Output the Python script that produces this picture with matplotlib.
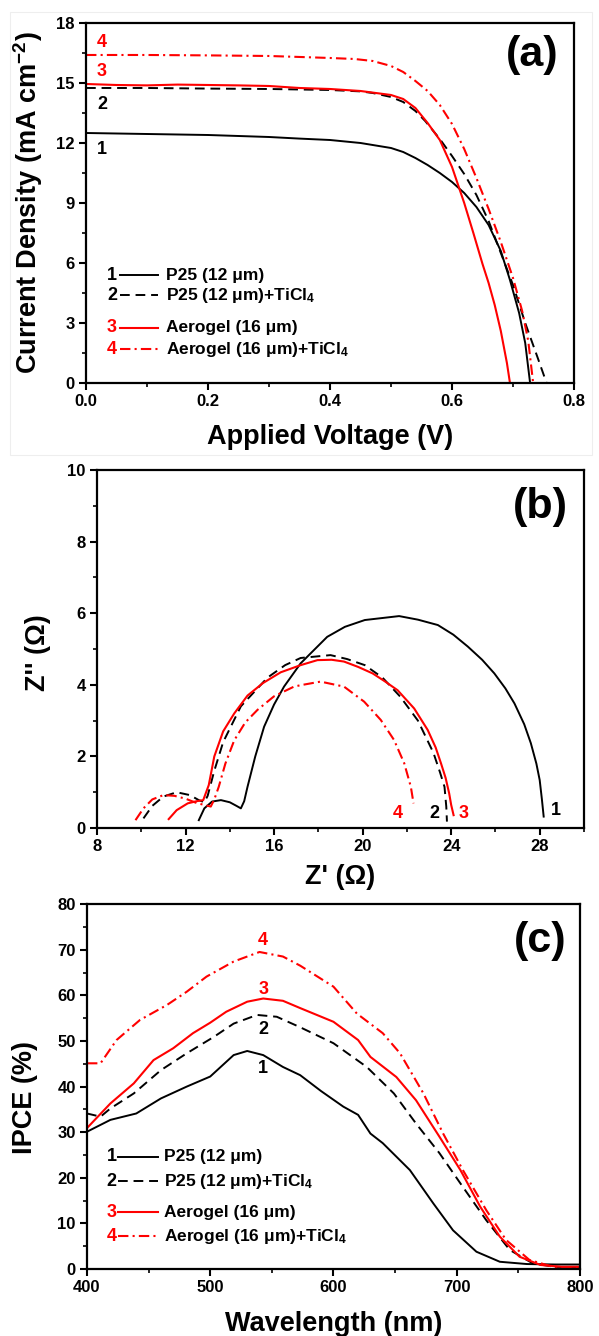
import matplotlib
matplotlib.use("Agg")
import matplotlib.pyplot as plt
from matplotlib.ticker import MultipleLocator
from matplotlib.patches import Rectangle

plt.rcParams["font.family"] = ["Liberation Sans", "DejaVu Sans"]
plt.rcParams["font.weight"] = "bold"
plt.rcParams["mathtext.fontset"] = "custom"
plt.rcParams["mathtext.rm"] = "Liberation Sans:bold"
plt.rcParams["mathtext.it"] = "Liberation Sans:bold"
plt.rcParams["mathtext.bf"] = "Liberation Sans:bold"
plt.rcParams["mathtext.default"] = "rm"

RED = "#ff0000"

# ---------------- (a) J-V curves ----------------
jv_v1 = [0, 0.1, 0.2, 0.3, 0.35, 0.4, 0.45, 0.5, 0.52, 0.54, 0.56, 0.58, 0.6, 0.62, 0.64,
         0.66, 0.68, 0.695, 0.71, 0.72, 0.728]
jv_j1 = [12.5, 12.45, 12.4, 12.3, 12.22, 12.15, 12.0, 11.75, 11.55, 11.25, 10.9, 10.5, 10.05, 9.5, 8.8,
         7.9, 6.6, 5.15, 3.5, 2.0, 0]

jv_v2 = [0, 0.1, 0.2, 0.3, 0.4, 0.45, 0.47, 0.5, 0.52, 0.54, 0.556, 0.58, 0.6, 0.62, 0.64,
         0.66, 0.68, 0.70, 0.72, 0.74, 0.755]
jv_j2 = [14.75, 14.75, 14.72, 14.7, 14.65, 14.58, 14.5, 14.3, 14.05, 13.6, 13.1, 12.2, 11.35, 10.45, 9.4,
         8.1, 6.5, 4.9, 3.0, 1.3, 0]

jv_v3 = [0, 0.05, 0.1, 0.15, 0.2, 0.25, 0.3, 0.35, 0.4, 0.45, 0.5, 0.52, 0.54, 0.56, 0.58,
         0.6, 0.62, 0.635, 0.65, 0.66, 0.67, 0.68, 0.69, 0.695]
jv_j3 = [14.95, 14.9, 14.88, 14.92, 14.9, 14.88, 14.85, 14.75, 14.7, 14.6, 14.4, 14.2, 13.75, 13.0, 12.15,
         10.8, 9.0, 7.5, 5.95, 5.0, 3.9, 2.6, 1.0, 0]

jv_v4 = [0, 0.1, 0.2, 0.3, 0.351, 0.4, 0.44, 0.47, 0.5, 0.52, 0.54, 0.56, 0.58, 0.6, 0.62,
         0.64, 0.66, 0.68, 0.7, 0.715, 0.725, 0.733]
jv_j4 = [16.4, 16.4, 16.38, 16.35, 16.3, 16.25, 16.2, 16.1, 15.85, 15.55, 15.1, 14.6, 13.9, 12.95, 11.7,
         10.25, 8.7, 7.05, 5.25, 3.6, 2.1, 0]

# ---------------- (b) Nyquist plots ----------------
eis_re1 = [12.6, 12.85, 13.2, 13.6, 14.0, 14.3, 14.5, 14.65, 14.8, 15.15, 15.55, 16.0, 16.45, 17.2, 18.4, 19.2,
           20.1, 21.65, 22.5, 23.4, 24.1, 24.75, 25.4, 25.95, 26.45, 26.86, 27.3, 27.6, 27.85, 28.0, 28.1, 28.18]
eis_im1 = [0.22, 0.55, 0.74, 0.78, 0.72, 0.62, 0.55, 0.75, 1.15, 2.0, 2.83, 3.45, 3.95, 4.6, 5.34, 5.62,
           5.81, 5.92, 5.82, 5.67, 5.40, 5.07, 4.7, 4.32, 3.9, 3.48, 2.9, 2.37, 1.8, 1.34, 0.8, 0.32]

eis_re2 = [10.1, 10.5, 11.0, 11.6, 12.2, 12.6, 12.85, 13.0, 13.3, 13.7, 14.5, 15.7, 16.5, 17.2, 18.55, 19.3,
           20.1, 20.9, 21.7, 22.5, 23.2, 23.5, 23.7, 23.78, 23.81]
eis_im2 = [0.27, 0.62, 0.88, 1.0, 0.92, 0.78, 0.72, 0.9, 1.6, 2.4, 3.4, 4.2, 4.55, 4.75, 4.83, 4.72,
           4.55, 4.2, 3.67, 3.0, 2.1, 1.55, 1.15, 0.6, 0.18]

eis_re3 = [11.24, 11.6, 12.1, 12.5, 12.8, 13.05, 13.3, 13.7, 14.2, 14.8, 15.5, 16.3, 17.2, 17.96, 18.6, 19.16,
           19.8, 20.45, 21.0, 21.58, 22.33, 22.94, 23.3, 23.54, 23.75, 23.91, 24.0, 24.11]
eis_im3 = [0.25, 0.5, 0.69, 0.75, 0.78, 1.2, 2.0, 2.7, 3.2, 3.7, 4.05, 4.35, 4.55, 4.69, 4.7, 4.65,
           4.5, 4.32, 4.1, 3.85, 3.34, 2.74, 2.25, 1.81, 1.4, 0.97, 0.65, 0.36]

eis_re4 = [9.74, 10.1, 10.5, 11.0, 11.5, 12.0, 12.5, 13.14, 13.3, 13.5, 13.8, 14.2, 14.7, 15.25, 16.0, 16.9,
           17.2, 18.1, 19.16, 20.07, 20.82, 21.42, 21.88, 22.18, 22.3]
eis_im4 = [0.22, 0.55, 0.8, 0.92, 0.9, 0.82, 0.7, 0.6, 0.8, 1.15, 1.8, 2.45, 2.95, 3.3, 3.68, 3.95,
           3.99, 4.09, 3.95, 3.53, 3.02, 2.46, 1.81, 1.15, 0.69]

# ---------------- (c) IPCE spectra ----------------
wl1 = [400, 419, 440, 460, 481, 500, 519, 530, 543, 559, 573, 590, 608, 620, 630, 640, 662, 681, 697, 716, 735, 757, 780, 800]
ipce1 = [30.1, 32.7, 34.1, 37.4, 40.0, 42.2, 46.9, 47.8, 46.9, 44.3, 42.5, 39.0, 35.6, 33.8, 29.7, 27.6, 21.7, 14.4, 8.5, 3.8, 1.6, 1.1, 1.0, 1.0]

wl2 = [400, 411, 419, 438, 460, 481, 503, 519, 538, 554, 573, 600, 627, 649, 667, 686, 705, 724, 743, 762, 780, 800]
ipce2 = [34.1, 33.4, 35.2, 38.5, 43.6, 47.3, 50.9, 53.8, 55.7, 55.3, 53.0, 49.5, 44.3, 38.5, 31.9, 25.4, 18.0, 10.7, 4.2, 1.2, 0.5, 0.3]

wl3 = [400, 419, 438, 454, 470, 486, 500, 513, 530, 543, 559, 573, 600, 620, 630, 651, 667, 686, 703, 719, 735, 751, 768, 785, 800]
ipce3 = [30.9, 36.3, 40.7, 45.8, 48.4, 51.7, 54.0, 56.4, 58.6, 59.3, 58.8, 57.2, 54.2, 50.2, 46.5, 42.1, 37.0, 29.0, 21.7, 13.7, 7.1, 2.7, 0.9, 0.5, 0.5]

wl4 = [400, 411, 424, 443, 465, 481, 497, 519, 540, 559, 573, 600, 619, 640, 654, 673, 689, 705, 724, 740, 759, 778, 800]
ipce4 = [45.1, 45.1, 50.2, 54.6, 57.9, 60.8, 64.1, 67.4, 69.5, 68.5, 66.5, 61.9, 56.0, 51.7, 47.3, 38.5, 29.7, 21.7, 12.9, 6.4, 2.0, 0.5, 0.3]

legend_labels = ["P25 (12 μm)", "P25 (12 μm)+TiCl$_4$", "Aerogel (16 μm)", "Aerogel (16 μm)+TiCl$_4$"]
curve_ids = ["1", "2", "3", "4"]

# line styles for samples 1-4
STYLES = [
    dict(color="black", lw=1.4, linestyle="-"),
    dict(color="black", lw=1.4, linestyle=(0, (5, 3))),
    dict(color=RED, lw=1.5, linestyle="-"),
    dict(color=RED, lw=1.5, linestyle=(0, (5, 2, 1, 2))),
]
NUM_COLORS = ["black", "black", RED, RED]


def style_axes(ax):
    for s in ax.spines.values():
        s.set_linewidth(1.6)
    ax.tick_params(which="major", direction="out", length=5, width=1.5,
                   labelsize=12, pad=3, top=False, right=False)
    ax.tick_params(which="minor", direction="out", length=3, width=1.2,
                   top=False, right=False)
    for lab in ax.get_xticklabels() + ax.get_yticklabels():
        lab.set_fontweight("bold")


def draw_key(ax, xnum, xl0, xl1, xtxt, rows):
    for i, y in enumerate(rows):
        ax.text(xnum, y, curve_ids[i], transform=ax.transAxes, color=NUM_COLORS[i],
                fontsize=13, fontweight="bold", ha="center", va="center")
        ax.plot([xl0, xl1], [y, y], transform=ax.transAxes, **STYLES[i])
        ax.text(xtxt, y, legend_labels[i], transform=ax.transAxes, color="black",
                fontsize=12.5, fontweight="bold", ha="left", va="center")


fig = plt.figure(figsize=(5.99, 13.36), dpi=100)
fig.patches.append(Rectangle((10 / 599, 1 - 455 / 1336), 582 / 599, 443 / 1336,
                             transform=fig.transFigure, fill=False,
                             edgecolor="#eeeeee", lw=0.8))

# ---- panel (a)
axa = fig.add_axes([0.1436, 0.7133, 0.8147, 0.2695])
for v, j, st in zip([jv_v1, jv_v2, jv_v3, jv_v4], [jv_j1, jv_j2, jv_j3, jv_j4], STYLES):
    axa.plot(v, j, **st)
axa.set_xlim(0, 0.8)
axa.set_ylim(0, 18)
axa.xaxis.set_major_locator(MultipleLocator(0.2))
axa.xaxis.set_minor_locator(MultipleLocator(0.1))
axa.yaxis.set_major_locator(MultipleLocator(3))
axa.yaxis.set_minor_locator(MultipleLocator(1.5))
axa.set_xticks([0, 0.2, 0.4, 0.6, 0.8], ["0.0", "0.2", "0.4", "0.6", "0.8"])
style_axes(axa)
axa.set_xlabel("Applied Voltage (V)", fontsize=19.5, fontweight="bold")
axa.set_ylabel("Current Density (mA cm$^{-2}$)", fontsize=19.5, fontweight="bold")
axa.xaxis.set_label_coords(0.5, -0.115)
axa.yaxis.set_label_coords(-0.085, 0.5)
for txt, x, y, c in [("4", 0.026, 17.0, RED), ("3", 0.026, 15.57, RED),
                     ("2", 0.026, 13.9, "black"), ("1", 0.026, 11.65, "black")]:
    axa.text(x, y, txt, color=c, fontsize=13, fontweight="bold", ha="center", va="center")
axa.text(0.914, 0.91, "(a)", transform=axa.transAxes, fontsize=31, fontweight="bold",
         ha="center", va="center")
draw_key(axa, 0.053, 0.070, 0.148, 0.164, [0.30, 0.244, 0.153, 0.094])

# ---- panel (b)
axb = fig.add_axes([0.1619, 0.3802, 0.8130, 0.2680])
for x, y, st in zip([eis_re1, eis_re2, eis_re3, eis_re4], [eis_im1, eis_im2, eis_im3, eis_im4], STYLES):
    axb.plot(x, y, **st)
axb.set_xlim(8, 30)
axb.set_ylim(0, 10)
axb.xaxis.set_major_locator(MultipleLocator(4))
axb.xaxis.set_minor_locator(MultipleLocator(2))
axb.yaxis.set_major_locator(MultipleLocator(2))
axb.yaxis.set_minor_locator(MultipleLocator(1))
axb.set_xticks([8, 12, 16, 20, 24, 28])
style_axes(axb)
axb.set_xlabel("Z' (Ω)", fontsize=19.5, fontweight="bold")
axb.set_ylabel("Z'' (Ω)", fontsize=19.5, fontweight="bold")
axb.xaxis.set_label_coords(0.5, -0.1)
axb.yaxis.set_label_coords(-0.095, 0.49)
for txt, x, y, c in [("4", 21.58, 0.4, RED), ("2", 23.22, 0.4, "black"),
                     ("3", 24.58, 0.4, RED), ("1", 28.74, 0.48, "black")]:
    axb.text(x, y, txt, color=c, fontsize=13, fontweight="bold", ha="center", va="center")
axb.text(0.91, 0.897, "(b)", transform=axb.transAxes, fontsize=31, fontweight="bold",
         ha="center", va="center")

# ---- panel (c)
axc = fig.add_axes([0.1452, 0.0501, 0.8230, 0.2732])
for x, y, st in zip([wl1, wl2, wl3, wl4], [ipce1, ipce2, ipce3, ipce4], STYLES):
    axc.plot(x, y, **st)
axc.set_xlim(400, 800)
axc.set_ylim(0, 80)
axc.xaxis.set_major_locator(MultipleLocator(100))
axc.xaxis.set_minor_locator(MultipleLocator(50))
axc.yaxis.set_major_locator(MultipleLocator(10))
axc.yaxis.set_minor_locator(MultipleLocator(5))
style_axes(axc)
axc.set_xlabel("Wavelength (nm)", fontsize=19.5, fontweight="bold")
axc.set_ylabel("IPCE (%)", fontsize=19.5, fontweight="bold")
axc.xaxis.set_label_coords(0.5, -0.115)
axc.yaxis.set_label_coords(-0.1, 0.47)
for txt, x, y, c in [("4", 543, 72.1, RED), ("3", 543, 61.2, RED),
                     ("2", 543, 52.4, "black"), ("1", 543, 44.0, "black")]:
    axc.text(x, y, txt, color=c, fontsize=13, fontweight="bold", ha="center", va="center")
axc.text(0.919, 0.90, "(c)", transform=axc.transAxes, fontsize=31, fontweight="bold",
         ha="center", va="center")
draw_key(axc, 0.05, 0.063, 0.144, 0.156, [0.308, 0.241, 0.155, 0.090])

fig.savefig("out.png", dpi=100)
